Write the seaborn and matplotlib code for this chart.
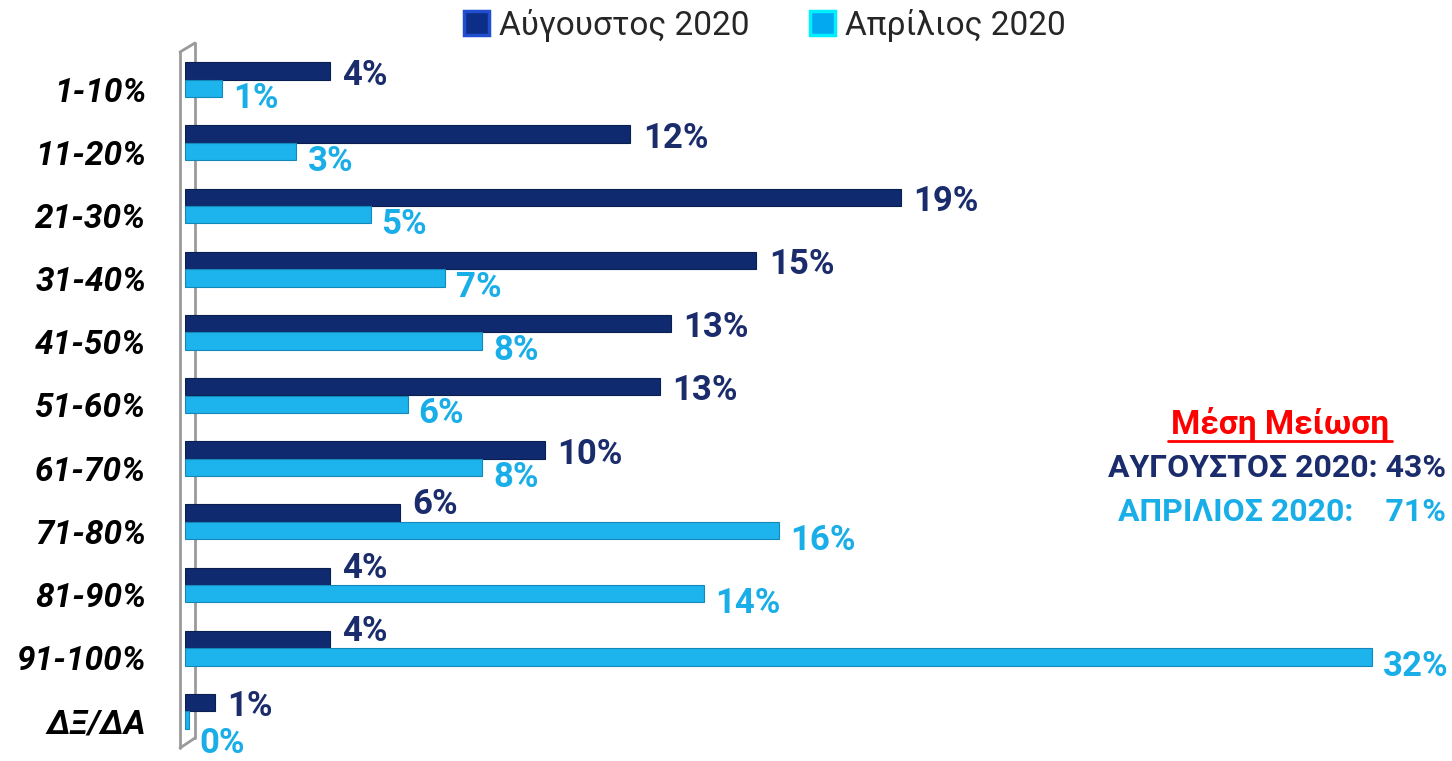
import matplotlib
matplotlib.use("Agg")
import matplotlib.pyplot as plt
import seaborn as sns
import pandas as pd
import numpy as np
from matplotlib.lines import Line2D
from matplotlib.patches import Patch

categories = ["1-10%", "11-20%", "21-30%", "31-40%", "41-50%", "51-60%",
              "61-70%", "71-80%", "81-90%", "91-100%", "ΔΞ/ΔΑ"]
aug_values = [3.9, 12.0, 19.3, 15.4, 13.1, 12.8, 9.7, 5.8, 3.9, 3.9, 0.8]
apr_values = [1.0, 3.0, 5.0, 7.0, 8.0, 6.0, 8.0, 16.0, 14.0, 32.0, 0.1]
series_names = ["Αύγουστος 2020", "Απρίλιος 2020"]
note_title = "Μέση Μείωση"
note_lines = ["ΑΥΓΟΥΣΤΟΣ 2020: 43%", "ΑΠΡΙΛΙΟΣ 2020:    71%"]

DARK = "#0F2A6E"
LIGHT = "#1DB3EC"
DARK_TXT = "#1A2C6B"
LIGHT_TXT = "#1AAEE8"

sns.set_theme(style="white")
plt.rcParams['font.family'] = ['Roboto', 'DejaVu Sans']

df = pd.DataFrame({
    "cat": categories * 2,
    "val": aug_values + apr_values,
    "series": [series_names[0]] * len(categories) + [series_names[1]] * len(categories),
})

W, H = 1452, 761
fig = plt.figure(figsize=(W / 100, H / 100), dpi=100)
ax = fig.add_axes([185 / W, 1 - 743 / H, (W - 185) / W, (743 - 48) / H])
ax.patch.set_alpha(0)

sns.barplot(data=df, y="cat", x="val", hue="series", order=categories,
            hue_order=series_names, palette=[DARK, LIGHT], orient="h",
            width=0.55, ax=ax, legend=False, saturation=1)

for cont, ec in zip(ax.containers, ["#0A1E50", "#1488B8"]):
    for p in cont:
        p.set_edgecolor(ec)
        p.set_linewidth(0.8)

ax.set_xlim(0, (W - 185) / 37.1)
ax.set_ylim(len(categories) - 0.5, -0.5)
ax.set_xticks([])
ax.set_yticks(np.arange(len(categories)) + 0.15)
ax.set_yticklabels(categories, fontsize=24, fontweight="bold", fontstyle="italic",
                   color="black")
ax.tick_params(axis="y", length=0, pad=28)
ax.set_xlabel("")
ax.set_ylabel("")
for s in ax.spines.values():
    s.set_visible(False)

# value labels
dark_c, light_c = ax.containers[0], ax.containers[1]
for p, v, o in zip(dark_c, aug_values, apr_values):
    x = p.get_x() + p.get_width()
    y = p.get_y() + p.get_height() / 2
    dy = 6 if o > v else -3
    ax.annotate(f"{round(v):.0f}%", xy=(x, y), xytext=(9, dy),
                textcoords="offset points", ha="left", va="center",
                fontsize=25, fontweight="bold", color=DARK_TXT, annotation_clip=False)
for p, v in zip(light_c, apr_values):
    x = p.get_x() + p.get_width()
    y = p.get_y() + p.get_height() / 2
    dy = -17 if v < 0.5 else -7
    ax.annotate(f"{round(v):.0f}%", xy=(x, y), xytext=(8, dy),
                textcoords="offset points", ha="left", va="center",
                fontsize=25, fontweight="bold", color=LIGHT_TXT, annotation_clip=False)

# side wall (behind bars)
def px(x, y):
    return (x / W, 1 - y / H)

wall = [((180, 52), (180, 748)), ((195, 43), (195, 738)),
        ((180, 52), (195, 43)), ((180, 748), (195, 738))]
for a, b in wall:
    (x0, y0), (x1, y1) = px(*a), px(*b)
    fig.add_artist(Line2D([x0, x1], [y0, y1], color="#9A9A9A", lw=2,
                          transform=fig.transFigure, zorder=-1))

# legend
handles = [Patch(facecolor="#0D2E86", edgecolor="#1F4FD0", linewidth=2.5),
           Patch(facecolor="#03A9F0", edgecolor="#00F0FF", linewidth=2.5)]
fig.legend(handles, series_names, loc="center", bbox_to_anchor=(765 / W, 1 - 25 / H),
           ncol=2, frameon=False, fontsize=24, handlelength=0.75, handleheight=0.75,
           handletextpad=0.3, columnspacing=1.8)

# note
fig.text(1280 / W, 1 - 424 / H, note_title, ha="center", va="center",
         fontsize=24, fontweight="bold", color="#FF0000")
fig.text(1446 / W, 1 - 468 / H, note_lines[0], ha="right", va="center",
         fontsize=23, fontweight="bold", color=DARK_TXT)
fig.text(1446 / W, 1 - 512 / H, note_lines[1], ha="right", va="center",
         fontsize=23, fontweight="bold", color=LIGHT_TXT)
fig.add_artist(Line2D([1168 / W, 1392 / W], [1 - 441 / H, 1 - 441 / H],
                      color="#FF0000", lw=2, transform=fig.transFigure))

fig.savefig("out.png", dpi=100)
